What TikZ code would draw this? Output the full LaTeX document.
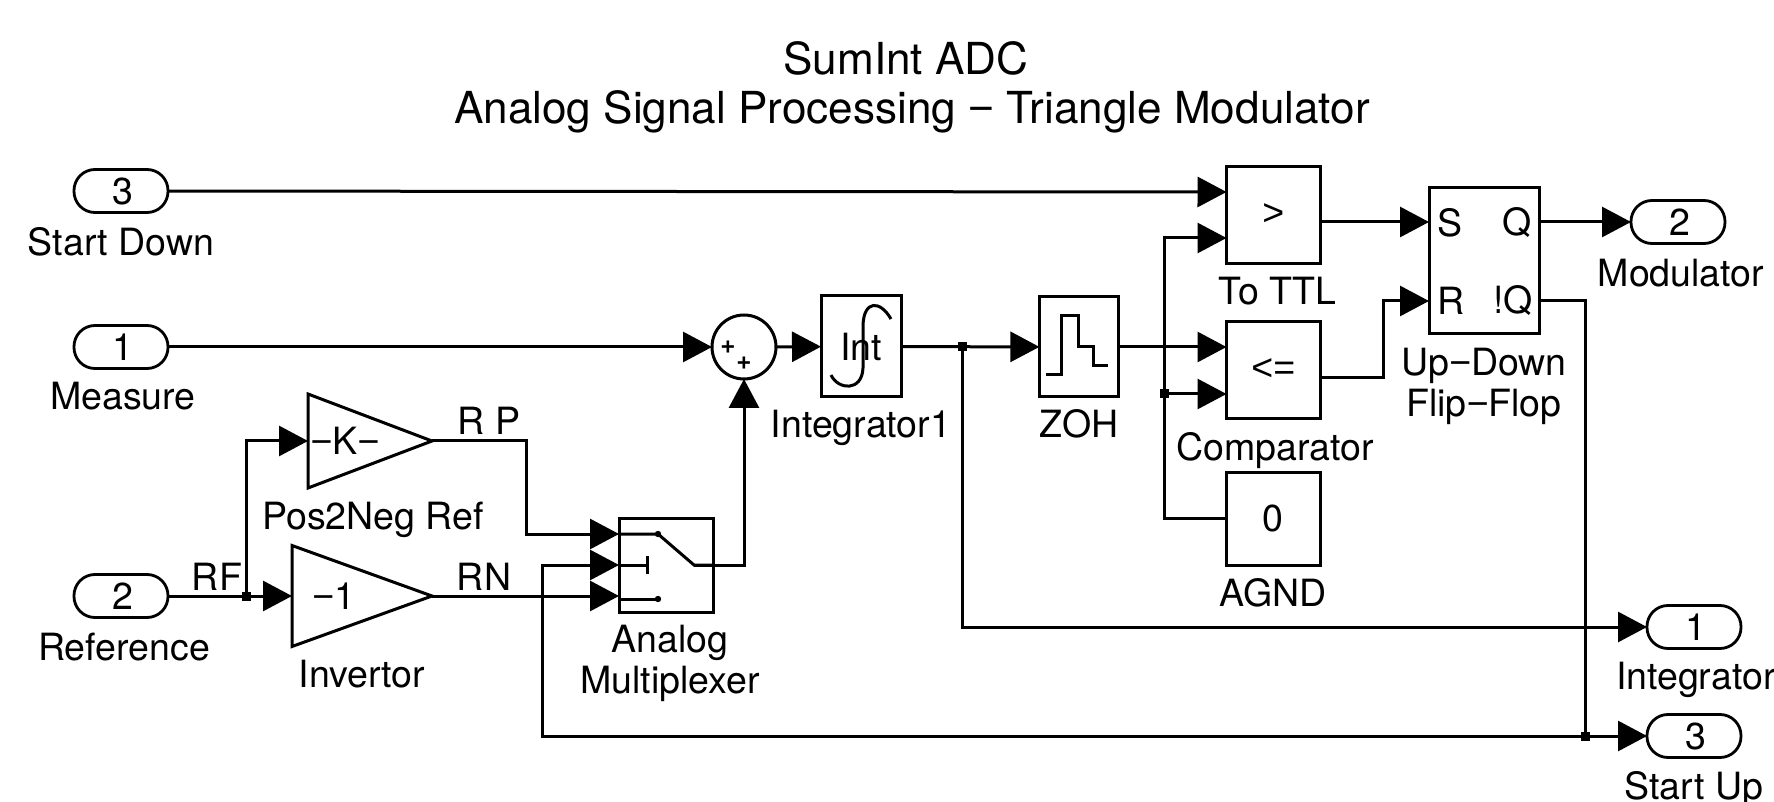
\documentclass[tikz,border=0pt]{standalone}
\usepackage{fontspec}
\setmainfont{TeX Gyre Heros}
\newfontfamily\symfont{Liberation Sans}
\usetikzlibrary{positioning}
\usetikzlibrary{arrows.meta}
\usetikzlibrary{shapes.geometric}

\begin{document}
\begin{tikzpicture}[
        x=0.5pt, y=-0.5pt,
        >={Triangle[length=14.5pt,width=15pt]},
        line width=1.5pt,
        every node/.style={font=\fontsize{18.76pt}{20.5pt}\selectfont, inner sep=0pt, outer sep=0pt},
        blocknode/.style={rectangle, draw=black, line width=1.5pt},
        gainnode/.style={isosceles triangle, isosceles triangle stretches, draw=black, line width=1.5pt, anchor=lower side},
        portnode/.style={rectangle, draw=black, line width=1.4pt, rounded corners=10.5pt, minimum width=47pt, minimum height=21.5pt},
        joinnode/.style={rectangle, fill=black, minimum size=4.5pt},
        tagnode/.style={align=center},
        signnode/.style={font=\fontsize{13pt}{13pt}\selectfont\bfseries}
    ]
        \useasboundingbox (0,0) rectangle (1774,802);

        \node [tagnode, font=\fontsize{22.05pt}{24.6pt}\selectfont] (Title) at (912,87.5) {SumInt ADC\hspace*{6pt}\\Analog Signal Processing {\symfont −} Triangle Modulator};

        \node [portnode] (InStartDown) at (121,191) {\hspace*{2pt}3};
        \node [portnode] (InMeasure) at (121,347) {\hspace*{2pt}1};
        \node [portnode] (InReference) at (121,596) {\hspace*{2pt}2};
        \node [portnode] (OutModulator) at (1678,222) {\hspace*{2pt}2};
        \node [portnode] (OutIntegrator) at (1694,627) {\hspace*{2pt}1};
        \node [portnode] (OutStartUp) at (1694,736) {\hspace*{2pt}3};

        \node [tagnode] (LabelStartDown) [below of=InStartDown, node distance=25.5pt] {Start Down};
        \node [tagnode] (LabelMeasure) [below of=InMeasure, node distance=24.5pt, xshift=1pt] {Measure};
        \node [tagnode] (LabelReference) [below of=InReference, node distance=25.5pt, xshift=1.5pt] {Reference};
        \node [tagnode] (LabelModulator) [below of=OutModulator, node distance=25.5pt, xshift=1.5pt] {Modulator};
        \node [tagnode, anchor=west] (LabelIntegrator) at (1616,680) {Integrator};
        \node [tagnode] (LabelStartUp) [below of=OutStartUp, node distance=26.6pt] {Start Up};

        \node [gainnode, minimum width=47pt, minimum height=62pt] (Gain) at (308,441) {{\symfont −}K{\symfont −}\hspace*{4.6pt}};
        \node [gainnode, minimum width=50.5pt, minimum height=70pt] (Invertor) at (292,596) {\hspace*{3.4pt}{\symfont −}1};
        \node [tagnode] (LabelGain) at (373,519.4) {Pos2Neg Ref};
        \node [tagnode] (LabelInvertor) at (362,674) {Invertor};
        \node [tagnode] (LabelRP) at (489,421) {R P};
        \node [tagnode] (LabelRN) at (484,577) {RN};
        \node [tagnode] (LabelRF) at (217,577) {RF};

        \node [circle, draw=black, line width=1.5pt, minimum size=32pt] (Sum) at (744,347) {};
        \node [signnode] (SumPlusA) at (728,347) {+};
        \node [signnode] (SumPlusB) at (744,363) {+};

        \node [blocknode, minimum width=40pt, minimum height=50.5pt] (Integrator) at (861,346.5) {Int};
        \node [blocknode, minimum width=39.3pt, minimum height=50pt] (ZOH) at (1078.7,347) {};
        \node [blocknode, minimum width=46.75pt, minimum height=48.5pt] (ToTTL) at (1273.3,214.7) {\symfont >};
        \node [blocknode, minimum width=46.75pt, minimum height=48.5pt] (Comparator) at (1273.3,370) {\symfont <=};
        \node [blocknode, minimum width=46.75pt, minimum height=46.5pt] (AGND) at (1273.3,518.5) {0};
        \node [blocknode, minimum width=55pt, minimum height=73pt] (FlipFlop) at (1484,261) {};
        \node [blocknode, minimum width=47pt, minimum height=47pt] (Mux) at (666,565) {};

        \node [tagnode] (LabelIntegrator1) [below of=Integrator, node distance=40.7pt] {Integrator1};
        \node [tagnode] (LabelZOH) [below of=ZOH, node distance=38.5pt] {ZOH};
        \node [tagnode] (LabelToTTL) [below of=ToTTL, node distance=38pt, xshift=2pt] {To TTL};
        \node [tagnode] (LabelComparator) [below of=Comparator, node distance=40.2pt, xshift=1pt] {Comparator};
        \node [tagnode] (LabelAGND) [below of=AGND, node distance=37pt] {AGND};
        \node [tagnode] (LabelFlipFlop) [below of=FlipFlop, node distance=62.7pt] {Up{\symfont −}Down\\Flip{\symfont −}Flop};
        \node [tagnode] (LabelMux) [below of=Mux, node distance=49.3pt, xshift=2pt] {Analog\\Multiplexer};

        \node (FlipFlopS) at (1450,223) {S};
        \node (FlipFlopQ) at (1517,223) {Q};
        \node (FlipFlopR) at (1451,301) {R};
        \node (FlipFlopNQ) at (1513,301) {!Q};

        \coordinate (ToTTLIn1) at (1226.5,192);
        \coordinate (ToTTLIn2) at (1226.5,238);
        \coordinate (ToTTLOut) at (1320,222);
        \coordinate (ComparatorIn1) at (1226.5,347);
        \coordinate (ComparatorIn2) at (1226.5,394);
        \coordinate (ComparatorOut) at (1320,378);
        \coordinate (FlipFlopIn1) at (1429,222);
        \coordinate (FlipFlopIn2) at (1429,301);
        \coordinate (FlipFlopOut1) at (1539,222);
        \coordinate (FlipFlopOut2) at (1539,301);
        \coordinate (MuxIn1) at (619,534);
        \coordinate (MuxIn2) at (619,565);
        \coordinate (MuxIn3) at (619,596);
        \coordinate (MuxOut) at (694,565);

        \node [joinnode] (JoinRF) at (246,596) {};
        \node [joinnode] (JoinInt) at (962,347) {};
        \node [joinnode] (JoinBus) at (1164.5,394) {};
        \node [joinnode] (JoinStartUp) at (1585.5,736) {};

        % inside the multiplexer
        \draw (MuxIn1) -- (658,534) -- (694,565) -- (713,565);
        \draw (MuxIn2) -- (647,565);
        \draw (647,556) -- (647,574);
        \draw (619,599) -- (658,599);
        \fill (658,534) circle (1.6pt);
        \fill (658,599) circle (1.6pt);

        % inside the integrator and the hold
        \draw (831,375) .. controls (838,390) and (862,392) .. (863,368) -- (863,325) .. controls (864,300) and (880,300) .. (891,319);
        \draw (1046,375) -- (1061,375) -- (1061,316) -- (1078,316) -- (1078,347) -- (1093,347) -- (1093,366) -- (1108,366);

        \path[->] (InStartDown) edge (ToTTLIn1);
        \path[->] (InMeasure) edge (Sum);
        \path[->] (Sum) edge (Integrator);
        \path[->] (Integrator) edge (ZOH);
        \path[->] (ZOH) edge (ComparatorIn1);
        \path[->] (ToTTLOut) edge (FlipFlopIn1);
        \path[->] (FlipFlopOut1) edge (OutModulator);
        \path[->] (JoinBus) edge (ComparatorIn2);
        \path[->] (JoinStartUp) edge (OutStartUp);
        \path[->] (Invertor.apex) edge (MuxIn3);
        \path[->] (JoinRF) edge (Invertor.lower side);
        \draw (InReference) -- (JoinRF);
        \draw[->] (JoinRF) |- (Gain.lower side);
        \draw[->] (Gain.apex) -- ++(94,0) |- (MuxIn1);
        \draw[->] (MuxOut) -| (Sum.south);
        \draw[->] (AGND.west) -- ++(-62,0) |- (ToTTLIn2);
        \draw[->] (ComparatorOut) -- ++(63,0) |- (FlipFlopIn2);
        \draw[->] (JoinInt) |- (OutIntegrator);
        \draw (FlipFlopOut2) -| (JoinStartUp);
        \draw[->] (JoinStartUp) -- ++(-1043.5,0) |- (MuxIn2);

    \end{tikzpicture}
\end{document}
